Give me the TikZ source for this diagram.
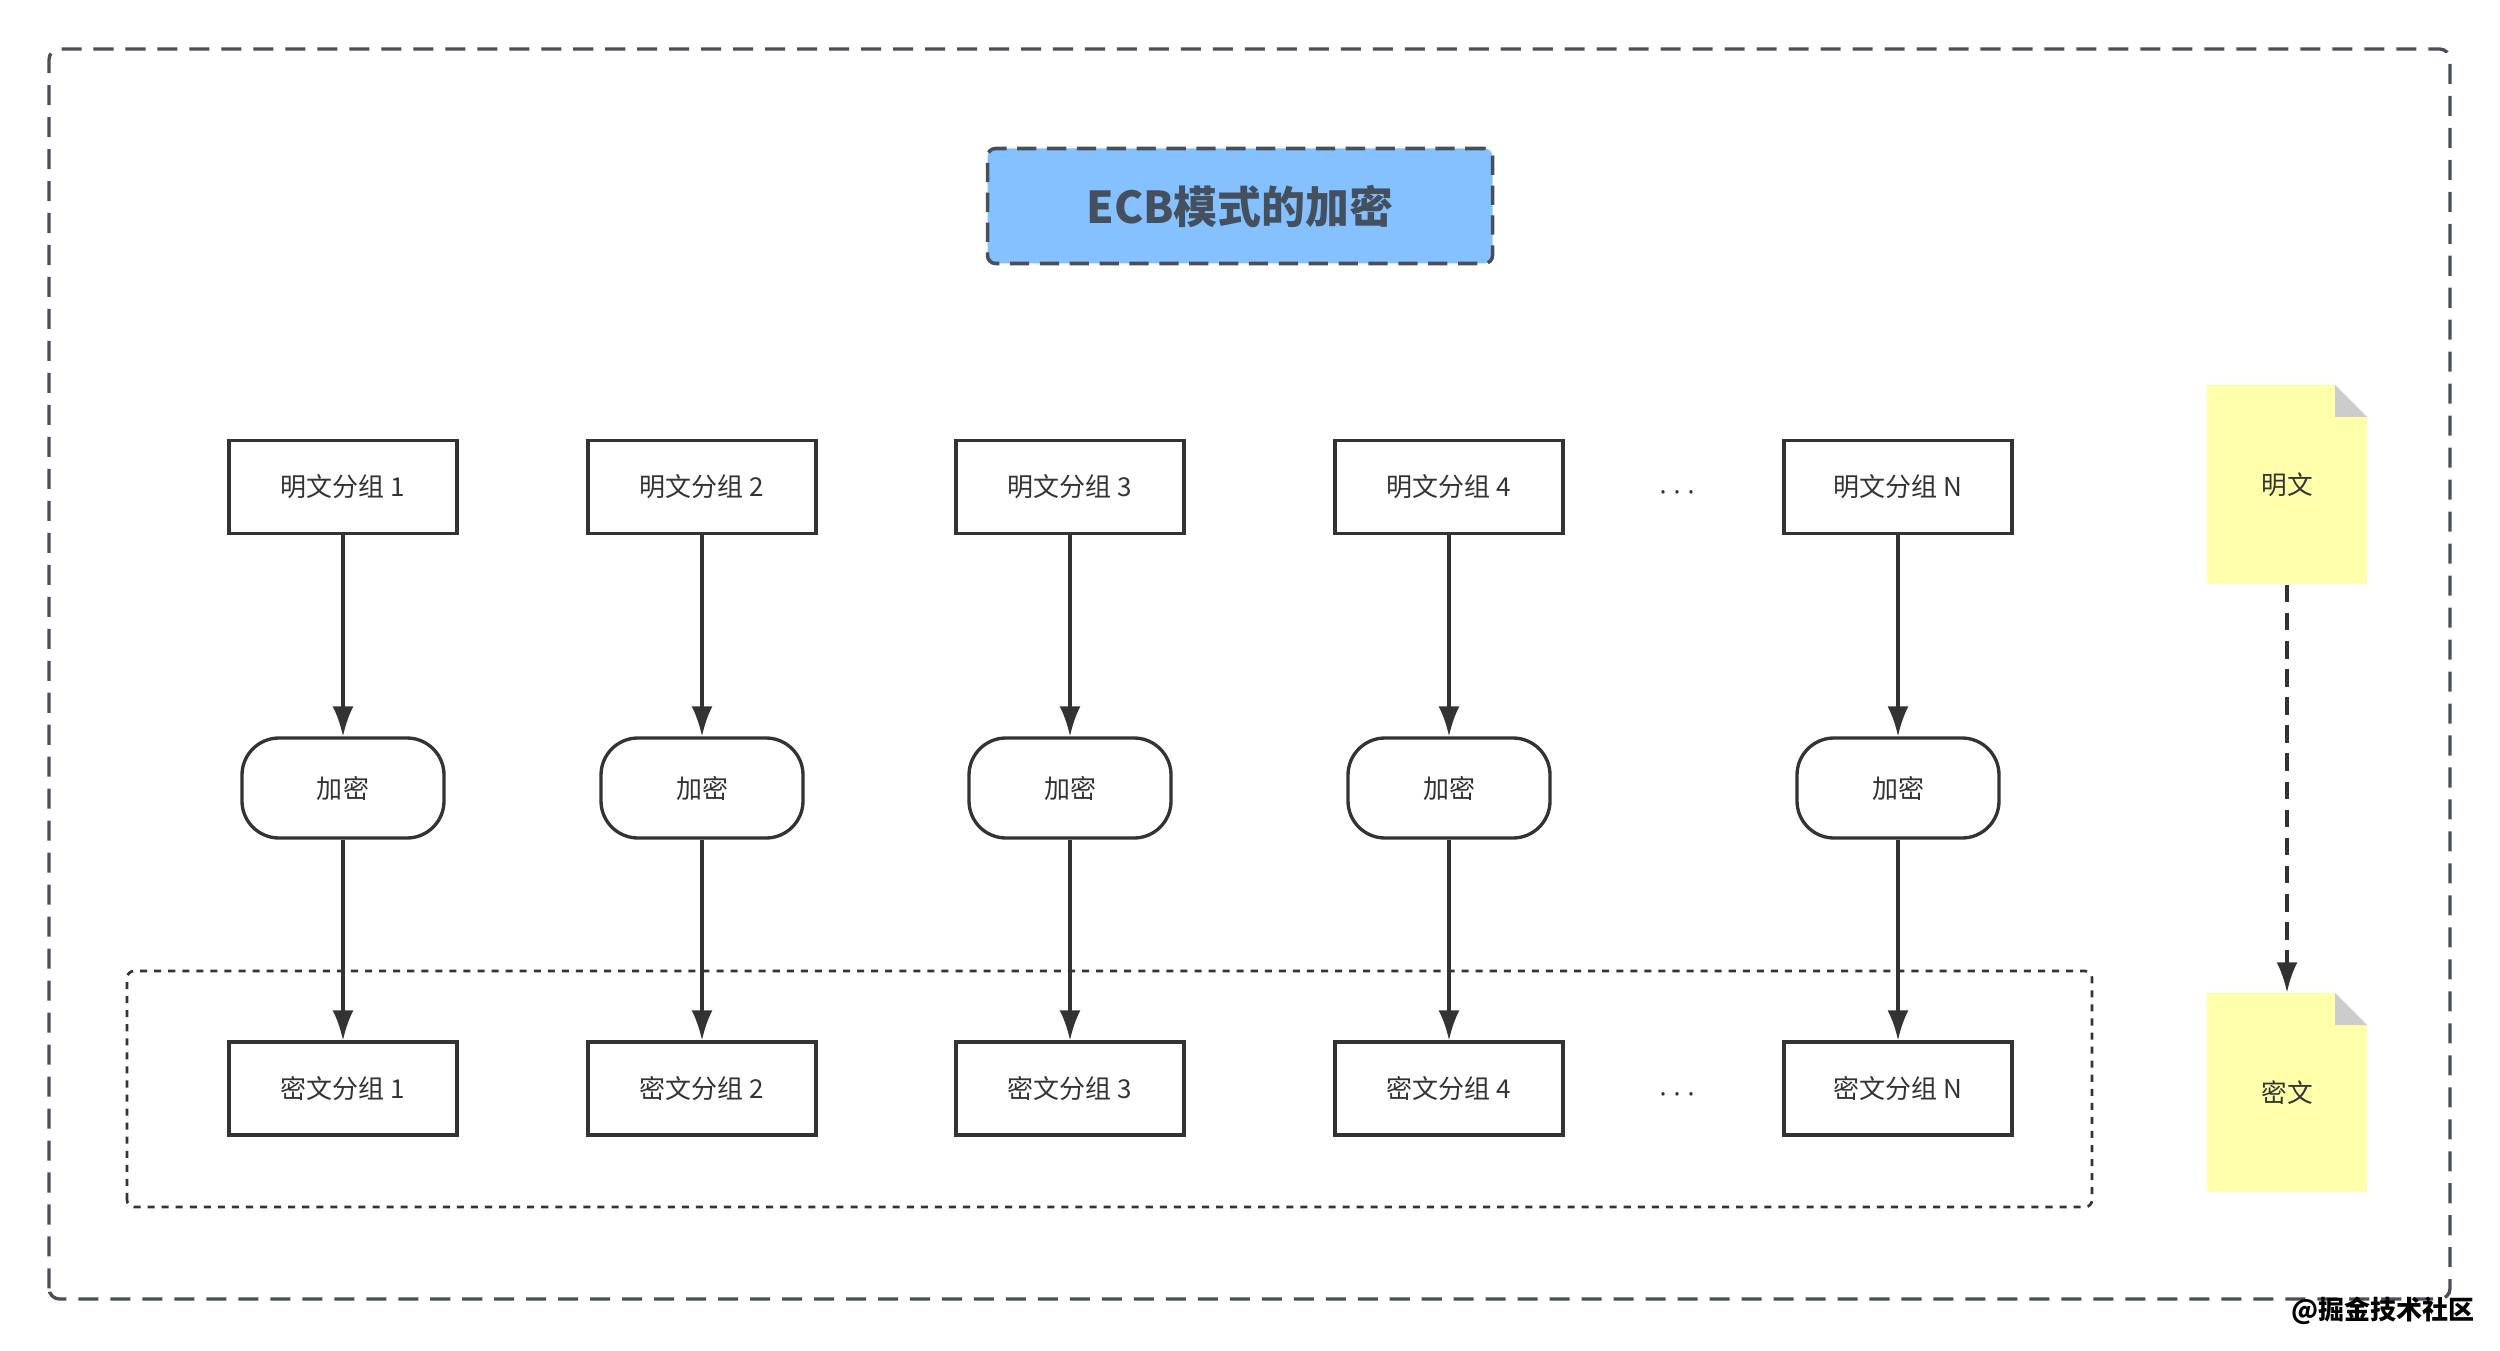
\documentclass[tikz,border=0pt]{standalone}
\usepackage{fontspec}
\setmainfont{Noto Sans CJK SC}
\newfontfamily\dotfont{Noto Sans}
\usetikzlibrary{arrows.meta,positioning}
\definecolor{linegray}{HTML}{333333}
\definecolor{framegray}{HTML}{494F55}
\definecolor{titleblue}{HTML}{85C1FF}
\definecolor{titletext}{HTML}{45505E}
\definecolor{noteyellow}{HTML}{FFFFAA}
\definecolor{foldgray}{HTML}{CCCCCC}
\tikzset{
    group/.style={
        draw=linegray,
        line width=0.95pt,
        fill=white,
        minimum width=2.28cm,
        minimum height=0.93cm,
        inner sep=0pt,
        text=linegray,
        font=\fontsize{7.4}{9}\selectfont
    },
    encrypt/.style={
        group,
        minimum width=2.02cm,
        minimum height=1.0cm,
        rounded corners=0.37cm
    },
    note/.style={
        fill=noteyellow,
        minimum width=1.6cm,
        minimum height=1.99cm,
        inner sep=0pt,
        text=linegray,
        font=\fontsize{7.3}{9}\selectfont,
        path picture={
            \fill[white] (path picture bounding box.north east) -- ++(-0.32,0) -- ++(0.32,-0.32) -- cycle;
            \fill[foldgray] (path picture bounding box.north east) ++(-0.32,0) -- ++(0,-0.32) -- ++(0.32,0) -- cycle;
        }
    },
    flow/.style={
        draw=linegray,
        line width=0.95pt,
        -{Latex[length=3mm,width=2.1mm]}
    },
    dots/.style={
        text=linegray,
        font=\dotfont\fontsize{7.4}{9}\selectfont
    }
}

\begin{document}
\begin{tikzpicture}
    \useasboundingbox (0,0) rectangle (25,13.5);
    \draw[framegray, line width=0.95pt, dash pattern=on 5.7pt off 3.4pt, rounded corners=3pt] (0.49,0.51) rectangle (24.50,13.01);
    \node[draw=framegray, fill=titleblue, line width=1pt, dash pattern=on 5.5pt off 3pt, rounded corners=0.08cm,
        minimum width=5.05cm, minimum height=1.15cm, text=titletext, font=\bfseries\fontsize{12.5}{15}\selectfont]
        (title) at (12.40,11.44) {ECB模式的加密};
    \draw[linegray, line width=0.75pt, dash pattern=on 2pt off 2pt, rounded corners=2pt] (1.27,1.43) rectangle (20.92,3.79);
    \foreach \x/\n [count=\i] in {3.43/1,7.02/2,10.70/3,14.49/4,18.98/N} {
        \node[group] (plain\i) at (\x,8.63) {明文分组 \n};
        \node[encrypt] (enc\i) at (\x,5.62) {加密};
        \node[group] (cipher\i) at (\x,2.615) {密文分组 \n};
        \draw[flow] (plain\i) -- (enc\i);
        \draw[flow] (enc\i) -- (cipher\i);
    }
    \node[dots] (dotstop) at (16.77,8.54) {·\hspace{2pt}·\hspace{2pt}·};
    \node[dots] (dotsbottom) at (16.77,2.52) {·\hspace{2pt}·\hspace{2pt}·};
    \node[note] (plaintext) at (22.87,8.655) {明文};
    \node[note] (ciphertext) at (22.87,2.575) {密文};
    \draw[flow, dash pattern=on 5pt off 3pt] (plaintext) -- (ciphertext);
    \node[text=black, font=\bfseries\fontsize{7.4}{9}\selectfont] (mark) at (23.83,0.39) {@掘金技术社区};
\end{tikzpicture}
\end{document}
